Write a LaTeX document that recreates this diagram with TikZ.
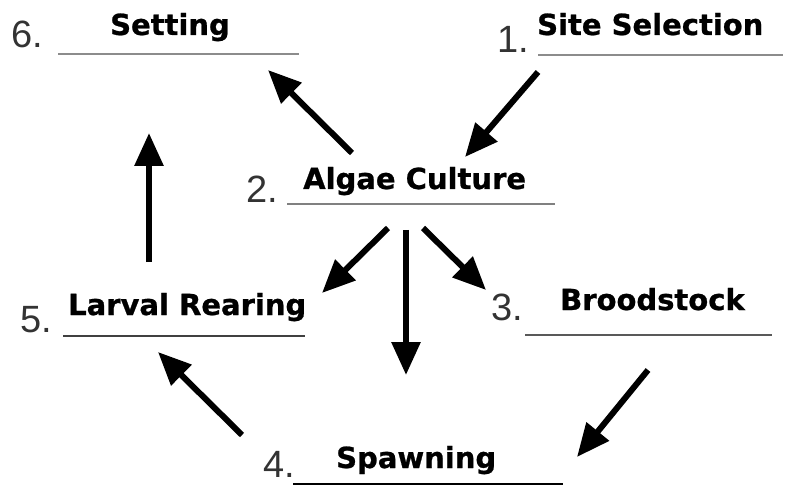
\documentclass[tikz,border=0pt]{standalone}
\usepackage{fontspec}
\setmainfont{DejaVu Sans}
\newfontfamily\numfont{Liberation Sans}
\newfontfamily\labfont{DejaVu Sans Bold}[FakeBold=0.8]
\usetikzlibrary{arrows.meta}
\begin{document}
\begin{tikzpicture}[x=1pt,y=-1pt,
  num/.style={anchor=base west,inner sep=0pt,text=black!80,font=\numfont\fontsize{38}{38}\selectfont},
  lab/.style={anchor=base west,inner sep=0pt,text=black,font=\labfont\fontsize{29}{29}\selectfont},
  uline/.style={line width=2.6pt},
  flow/.style={line width=6pt,-{Triangle[width=28pt,length=33pt]}}]
\useasboundingbox (0,0) rectangle (789,486);
% numbers
\node[num] (n6) at (11,48) {6.};
\node[num] (n1) at (497,53) {1.};
\node[num] (n2) at (246,203) {2.};
\node[num] (n3) at (491,320) {3.};
\node[num] (n4) at (263,477) {4.};
\node[num] (n5) at (20,332) {5.};
% labels
\node[lab] (l6) at (110,35) {Setting};
\node[lab] (l1) at (537,35) {Site Selection};
\node[lab] (l2) at (303,189) {Algae Culture};
\node[lab] (l3) at (560,310) {Broodstock};
\node[lab] (l4) at (336,468) {Spawning};
\node[lab] (l5) at (68,315) {Larval Rearing};
% underlines
\coordinate (u6a) at (58,54);  \coordinate (u6b) at (299,54);
\coordinate (u1a) at (538,55); \coordinate (u1b) at (783,55);
\coordinate (u2a) at (287,204); \coordinate (u2b) at (555,204);
\coordinate (u3a) at (525,335); \coordinate (u3b) at (772,335);
\coordinate (u4a) at (293,484); \coordinate (u4b) at (563,484);
\coordinate (u5a) at (63,336); \coordinate (u5b) at (305,336);
\draw[uline,black!45] (u6a) -- (u6b);
\draw[uline,black!45] (u1a) -- (u1b);
\draw[uline,black!50] (u2a) -- (u2b);
\draw[uline,black!65] (u3a) -- (u3b);
\draw[uline,black] (u4a) -- (u4b);
\draw[uline,black!75] (u5a) -- (u5b);
% arrow ends
\coordinate (a12s) at (538,72);  \coordinate (a12e) at (465,157);
\coordinate (a26s) at (352,153); \coordinate (a26e) at (268,70);
\coordinate (a56s) at (149,262); \coordinate (a56e) at (149,133);
\coordinate (a25s) at (388,228); \coordinate (a25e) at (322,293);
\coordinate (a24s) at (406,230); \coordinate (a24e) at (406,375);
\coordinate (a23s) at (423,228); \coordinate (a23e) at (486,290);
\coordinate (a34s) at (648,370); \coordinate (a34e) at (577,457);
\coordinate (a45s) at (242,435); \coordinate (a45e) at (158,352);
\draw[flow] (a12s) -- (a12e);
\draw[flow] (a26s) -- (a26e);
\draw[flow] (a56s) -- (a56e);
\draw[flow] (a25s) -- (a25e);
\draw[flow] (a24s) -- (a24e);
\draw[flow] (a23s) -- (a23e);
\draw[flow] (a34s) -- (a34e);
\draw[flow] (a45s) -- (a45e);
\end{tikzpicture}
\end{document}
